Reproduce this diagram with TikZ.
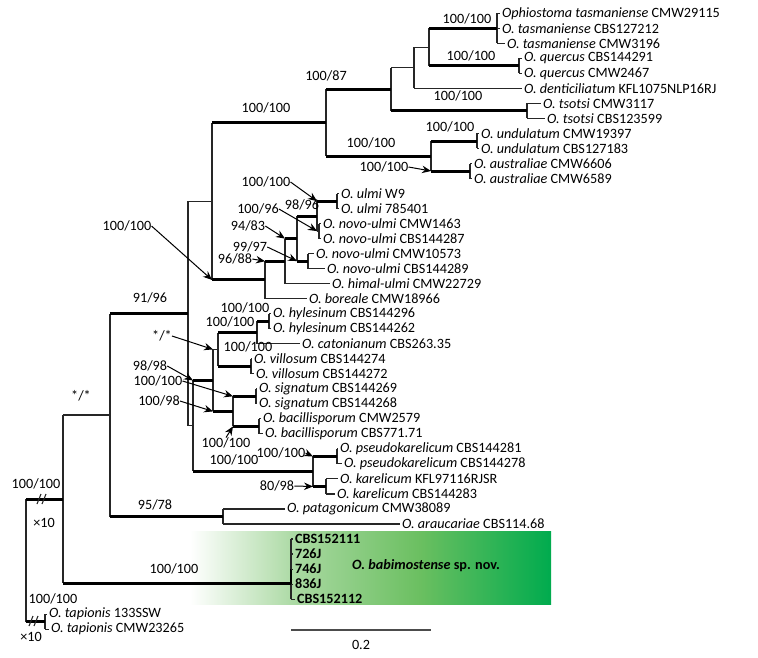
\documentclass[tikz,border=0pt]{standalone}
\usepackage{fontspec}
\setmainfont{Carlito}
\usetikzlibrary{arrows.meta}
\definecolor{babiA}{HTML}{A8D8A0}
\definecolor{babiB}{HTML}{6ABF60}
\definecolor{babiC}{HTML}{00AB4E}
\pgfdeclarehorizontalshading{babishade}{100bp}{color(0bp)=(white); color(25bp)=(white); color(40bp)=(babiA); color(57bp)=(babiB); color(75bp)=(babiC); color(100bp)=(babiC)}
\newcommand\treefont{\fontsize{14.2}{16}\selectfont}
\newcommand\strain[1]{\space#1}

\begin{document}
\begin{tikzpicture}[x=1pt,y=-1pt,
  br/.style={line width=1.1pt,draw=black!85},
  thk/.style={line width=3pt,draw=black},
  tip/.style={anchor=west,inner xsep=1.5pt,inner ysep=0pt,font=\treefont},
  sup/.style={inner sep=0pt,font=\treefont},
  pointer/.style={line width=1pt,-{Stealth[length=9pt,width=7.5pt,inset=3pt]}},
]
\useasboundingbox (0,0) rectangle (758,657);

% highlighted clade of the new species
\shade[shading=babishade] (190,531) rectangle (551,604);

% tip rows
\foreach \i in {1,...,42}{
  \coordinate (r\i) at (0,{13.3+15.02*(\i-1)});
}

% internal nodes
\coordinate (tas)  at (497,28.3);
\coordinate (que)  at (519,65.9);
\coordinate (n429) at (429,47.1);
\coordinate (n414) at (414,67.8);
\coordinate (tso)  at (527,110.9);
\coordinate (n391) at (391,89.3);
\coordinate (und)  at (477,141.0);
\coordinate (aus)  at (470,171.0);
\coordinate (n431) at (431,156.0);
\coordinate (n326) at (326,122.7);
\coordinate (ulmi) at (337,201.1);
\coordinate (nova) at (319,231.1);
\coordinate (n317) at (317,216.1);
\coordinate (novb) at (308,261.1);
\coordinate (n297) at (297,238.6);
\coordinate (n285) at (285,261.2);
\coordinate (n265) at (265,279.9);
\coordinate (n212) at (212,201.3);
\coordinate (hyl)  at (269,321.2);
\coordinate (n257) at (257,332.5);
\coordinate (vil)  at (251,366.3);
\coordinate (n218) at (218,349.4);
\coordinate (sig)  at (256,396.3);
\coordinate (bac)  at (259,426.4);
\coordinate (n233) at (233,411.4);
\coordinate (n213) at (213,380.4);
\coordinate (pse)  at (337,456.4);
\coordinate (kar)  at (326,486.5);
\coordinate (n313) at (313,471.4);
\coordinate (n193) at (193,425.9);
\coordinate (n188) at (188,313.6);
\coordinate (n223) at (223,516.5);
\coordinate (n110) at (110,415.0);
\coordinate (babi) at (291,583.0);
\coordinate (n63)  at (63,499.0);
\coordinate (tap)  at (45,621.6);
\coordinate (root) at (26,560.0);

% vertical connectors of each node
\foreach \v/\a/\b in {tas/r1/r3, que/r4/r5, n429/tas/que, n414/n429/r6,
  n391/n414/tso, tso/r7/r8, und/r9/r10, aus/r11/r12, n431/und/aus,
  n326/n391/n431, ulmi/r13/r14, nova/r15/r16, n317/ulmi/nova, novb/r17/r18,
  n297/n317/novb, n285/n297/r19, n265/n285/r20, n212/n326/n265,
  hyl/r21/r22, n257/hyl/r23, vil/r24/r25, n218/n257/vil, sig/r26/r27,
  bac/r28/r29, n233/sig/bac, n213/n218/n233, pse/r30/r31, kar/r32/r33,
  n313/pse/kar, n193/n213/n313, n188/n212/n193, n223/r34/r35,
  n110/n188/n223, babi/r36/r40, n63/n110/babi, tap/r41/r42, root/n63/tap}{
  \draw[br] (\v |- \a) -- (\v |- \b);
}
\draw[line width=2pt] (babi |- r38) -- (babi |- r39);

% terminal branches and taxon names
\foreach \i/\pn/\x/\txt in {
  1/tas/500/{\textit{Ophiostoma tasmaniense}\strain{CMW29115}},
  2/tas/500/{\textit{O. tasmaniense}\strain{CBS127212}},
  3/tas/505/{\textit{O. tasmaniense}\strain{CMW3196}},
  4/que/522/{\textit{O. quercus}\strain{CBS144291}},
  5/que/522/{\textit{O. quercus}\strain{CMW2467}},
  6/n414/522/{\textit{O. denticiliatum}\strain{KFL1075NLP16RJ}},
  7/tso/541/{\textit{O. tsotsi}\strain{CMW3117}},
  8/tso/545/{\textit{O. tsotsi}\strain{CBS123599}},
  9/und/479/{\textit{O. undulatum}\strain{CMW19397}},
  10/und/479/{\textit{O. undulatum}\strain{CBS127183}},
  11/aus/472/{\textit{O. australiae}\strain{CMW6606}},
  12/aus/472/{\textit{O. australiae}\strain{CMW6589}},
  13/ulmi/339/{\textit{O. ulmi}\strain{W9}},
  14/ulmi/339/{\textit{O. ulmi}\strain{785401}},
  15/nova/321/{\textit{O. novo-ulmi}\strain{CMW1463}},
  16/nova/321/{\textit{O. novo-ulmi}\strain{CBS144287}},
  17/novb/314/{\textit{O. novo-ulmi}\strain{CMW10573}},
  18/novb/325/{\textit{O. novo-ulmi}\strain{CBS144289}},
  19/n285/330/{\textit{O. himal-ulmi}\strain{CMW22729}},
  20/n265/307/{\textit{O. boreale}\strain{CMW18966}},
  21/hyl/271/{\textit{O. hylesinum}\strain{CBS144296}},
  22/hyl/271/{\textit{O. hylesinum}\strain{CBS144262}},
  23/n257/300/{\textit{O. catonianum}\strain{CBS263.35}},
  24/vil/252/{\textit{O. villosum}\strain{CBS144274}},
  25/vil/254/{\textit{O. villosum}\strain{CBS144272}},
  26/sig/257/{\textit{O. signatum}\strain{CBS144269}},
  27/sig/257/{\textit{O. signatum}\strain{CBS144268}},
  28/bac/261/{\textit{O. bacillisporum}\strain{CMW2579}},
  29/bac/263/{\textit{O. bacillisporum}\strain{CBS771.71}},
  30/pse/338/{\textit{O. pseudokarelicum}\strain{CBS144281}},
  31/pse/342/{\textit{O. pseudokarelicum}\strain{CBS144278}},
  32/kar/338/{\textit{O. karelicum}\strain{KFL97116RJSR}},
  33/kar/335/{\textit{O. karelicum}\strain{CBS144283}},
  34/n223/285/{\textit{O. patagonicum}\strain{CMW38089}},
  35/n223/400/{\textit{O. araucariae}\strain{CBS114.68}},
  36/babi/293/{\textbf{CBS152111}},
  37/babi/293/{\textbf{726J}},
  38/babi/293/{\textbf{746J}},
  39/babi/293/{\textbf{836J}},
  40/babi/295/{\textbf{CBS152112}},
  41/tap/47/{\textit{O. tapionis}\strain{133SSW}},
  42/tap/49/{\textit{O. tapionis}\strain{CMW23265}}}{
  \pgfmathsetmacro\yy{13.3+15.02*(\i-1)}
  \draw[br] (\pn |- r\i) -- (\x,\yy) node[tip] (tip\i) {\txt};
}

% internal branches
\foreach \c/\p/\s in {n429/n414/br, n414/n391/br, n212/n188/br, nova/n317/br,
  n218/n213/br, n193/n188/br, n110/n63/br,
  tas/n429/thk, que/n429/thk, tso/n391/thk, n391/n326/thk, und/n431/thk,
  aus/n431/thk, n431/n326/thk, n326/n212/thk, ulmi/n317/thk, n317/n297/thk,
  novb/n297/thk, n297/n285/thk, n285/n265/thk, n265/n212/thk, hyl/n257/thk,
  n257/n218/thk, vil/n218/thk, sig/n233/thk, bac/n233/thk, n233/n213/thk,
  n213/n193/thk, pse/n313/thk, kar/n313/thk, n313/n193/thk, n188/n110/thk,
  n223/n110/thk, babi/n63/thk, n63/root/thk, tap/root/thk}{
  \draw[\s] (\c -| \p) -- (\c);
}

% shortened branches
\draw[br] (37,504) -- (41,494) (42,504) -- (46,494);
\draw[br] (29,626) -- (33,616) (34,626) -- (38,616);
\node[sup] (x10a) at (44,523) {×10};
\node[sup] (x10b) at (31,637) {×10};

% support values
\node[sup] (s01) at (467,19) {100/100};
\node[sup] (s02) at (471,56) {100/100};
\node[sup] (s03) at (326,76) {100/87};
\node[sup] (s04) at (458,96) {100/100};
\node[sup] (s05) at (266,108) {100/100};
\node[sup] (s06) at (450,127) {100/100};
\node[sup] (s07) at (371,143) {100/100};
\node[sup] (s08) at (302,205) {98/96};
\node[sup] (s09) at (150,298) {91/96};
\node[sup] (s10) at (245,308) {100/100};
\node[sup] (s11) at (230,322) {100/100};
\node[sup] (s12) at (248,347) {100/100};
\node[sup] (s13) at (234,460) {100/100};
\node[sup] (s14) at (155,505) {95/78};
\node[sup] (s15) at (174,569) {100/100};
\node[sup] (s16) at (81,396) {*/*};
\node[sup] (s17) at (36,484) {100/100};
\node[sup] (s18) at (53,599) {100/100};

% support values pointing to their nodes
\node[sup] (a01) at (384,167) {100/100};
\node[sup] (a02) at (266,182) {100/100};
\node[sup] (a03) at (258,209) {100/96};
\node[sup] (a04) at (248,226) {94/83};
\node[sup] (a05) at (250,247) {99/97};
\node[sup] (a06) at (235,259) {96/88};
\node[sup] (a07) at (127,226) {100/100};
\node[sup] (a08) at (162,336) {*/*};
\node[sup] (a09) at (150,366) {98/98};
\node[sup] (a10) at (158,381) {100/100};
\node[sup] (a11) at (159,401) {100/98};
\node[sup] (a12) at (226,443) {100/100};
\node[sup] (a13) at (281,453) {100/100};
\node[sup] (a14) at (277,486) {80/98};
\draw[pointer] (a01.east) -- (aus -| n431);
\draw[pointer] (a02.east) -- (ulmi -| n317);
\draw[pointer] (a03.east) -- (nova -| n317);
\draw[pointer] (a04.east) -- (n297 -| n285);
\draw[pointer] (a05.east) -- (novb -| n297);
\draw[pointer] (a06.east) -- (n285 -| n265);
\draw[pointer] (a07.east) -- (n265 -| n212);
\draw[pointer] (a08.east) -- (n218 -| n213);
\draw[pointer] (a09.east) -- (n213 -| n193);
\draw[pointer] (a10.east) -- (sig -| n233);
\draw[pointer] (a11.east) -- (n233 -| n213);
\draw[pointer] (a12.north) -- (bac -| n233);
\draw[pointer] (a13.east) -- (pse -| n313);
\draw[pointer] (a14.east) -- (kar -| n313);

% species name of the highlighted clade
\node[sup,font=\treefont\bfseries] (babiname) at (426,566) {\textit{O. babimostense} sp. nov.};

% scale bar
\coordinate (sbL) at (291,630);
\coordinate (sbR) at (431,630);
\draw[line width=1.3pt,draw=black!70] (sbL) -- (sbR);
\node[sup] (sbtext) at (361,645) {0.2};
\end{tikzpicture}
\end{document}
